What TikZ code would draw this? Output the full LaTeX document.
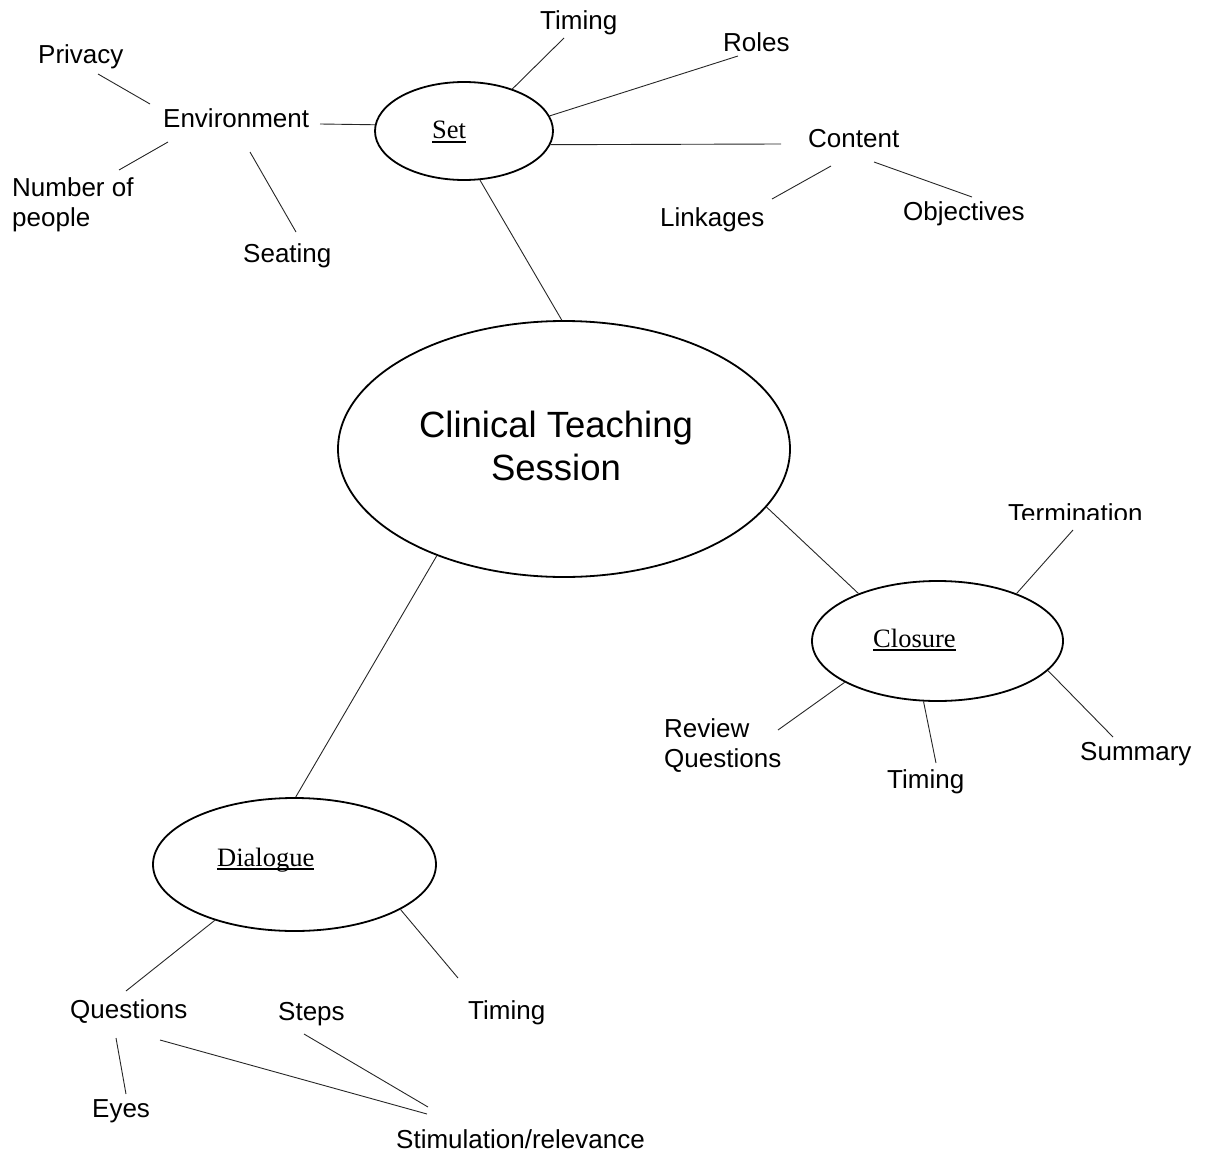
\documentclass[tikz,border=0pt]{standalone}
\usepackage{fontspec}
\usetikzlibrary{shapes.geometric}
\newfontfamily\arialf{Liberation Sans}
\newfontfamily\timesf{Liberation Serif}
\newcommand\ulword[1]{\setbox0\hbox{#1}\rlap{\rule[-3.6pt]{\wd0}{1.4pt}}\box0}
\tikzset{
  lbl/.style={anchor=base west, inner sep=0pt, font=\arialf\fontsize{26}{30}\selectfont, align=left},
  ttl/.style={anchor=base west, inner sep=0pt, font=\timesf\fontsize{26.5}{30}\selectfont},
  bubble/.style={ellipse, draw, line width=1.8pt, inner sep=0pt},
  link/.style={line width=0.9pt, black!85}
}
\begin{document}
\begin{tikzpicture}[x=1pt,y=-1pt]
\useasboundingbox (0,0) rectangle (1210,1153);

% ellipses
\node[bubble, minimum width=178pt, minimum height=98pt] (set) at (464,131) {};
\node[bubble, minimum width=452pt, minimum height=256pt] (main) at (564,449) {};
\node[bubble, minimum width=251pt, minimum height=120pt] (clo) at (937.5,641) {};
\node[bubble, minimum width=283pt, minimum height=133pt] (dia) at (294.5,864.5) {};

% ellipse labels
\node[ttl] (settxt) at (432,139) {\ulword{Set}};
\node[ttl] (clotxt) at (873,647) {\ulword{Closure}};
\node[ttl] (diatxt) at (217,866) {\ulword{Dialogue}};
\node[anchor=base, inner sep=0pt, align=center, font=\arialf\fontsize{36.5}{43}\selectfont] (maintxt) at (556,480) {Clinical Teaching\\Session};

% Set branch labels
\node[lbl] (privacy) at (38,64) {Privacy};
\node[lbl] (env) at (163,128) {Environment};
\node[lbl] (number) at (12,226) {Number of\\people};
\node[lbl] (seating) at (243,262) {Seating};
\node[lbl] (timing1) at (540,30) {Timing};
\node[lbl] (roles) at (723,52) {Roles};
\node[lbl] (content) at (808,148) {Content};
\node[lbl] (linkages) at (660,226) {Linkages};
\node[lbl] (objectives) at (903,220) {Objectives};

% Closure branch labels
\begin{scope}
\clip (990,490) rectangle (1180,519.5);
\node[lbl] (termination) at (1008,522) {Termination};
\end{scope}
\node[lbl] (summary) at (1080,760) {Summary};
\node[lbl] (timing2) at (887,788) {Timing};
\node[lbl] (review) at (664,767) {Review\\Questions};

% Dialogue branch labels
\node[lbl] (questions) at (70,1018) {Questions};
\node[lbl] (steps) at (278,1020) {Steps};
\node[lbl] (timing3) at (468,1019) {Timing};
\node[lbl] (eyes) at (92,1117) {Eyes};
\node[lbl] (stim) at (396,1148) {Stimulation/relevance};

% free ends of connectors
\coordinate (pA) at (98,74);   \coordinate (pB) at (150,104);
\coordinate (nA) at (168,142); \coordinate (nB) at (119,170);
\coordinate (sA) at (250,152); \coordinate (sB) at (296,232);
\coordinate (eS) at (320,124);
\coordinate (tS) at (564,38);
\coordinate (rS) at (738,56);
\coordinate (cS) at (781,144);
\coordinate (lA) at (831,166); \coordinate (lB) at (772,199);
\coordinate (oA) at (874,162); \coordinate (oB) at (972,197);
\coordinate (teC) at (1073,530);
\coordinate (suC) at (1113,737);
\coordinate (tiC) at (936,763);
\coordinate (reC) at (778,730);
\coordinate (quD) at (126,991);
\coordinate (tiD) at (458,978);
\coordinate (eA) at (116,1038); \coordinate (eB) at (126,1094);
\coordinate (qA) at (160,1040); \coordinate (qB) at (427,1114);
\coordinate (stA) at (304,1034); \coordinate (stB) at (428,1107);

% connectors
\draw[link] (pA) -- (pB);
\draw[link] (nA) -- (nB);
\draw[link] (sA) -- (sB);
\draw[link] (eS) -- (set.176);
\draw[link] (set.41) -- (tS);
\draw[link] (set.10) -- (rS);
\draw[link] (set.-9) -- (cS);
\draw[link] (lA) -- (lB);
\draw[link] (oA) -- (oB);
\draw[link] (set.-72) -- (main.91);
\draw[link] (main.-16) -- (clo.149);
\draw[link] (main.220) -- (dia.89);
\draw[link] (clo.31) -- (teC);
\draw[link] (clo.-15) -- (suC);
\draw[link] (clo.-103) -- (tiC);
\draw[link] (clo.-156) -- (reC);
\draw[link] (dia.-145) -- (quD);
\draw[link] (dia.-23) -- (tiD);
\draw[link] (eA) -- (eB);
\draw[link] (qA) -- (qB);
\draw[link] (stA) -- (stB);
\end{tikzpicture}
\end{document}
